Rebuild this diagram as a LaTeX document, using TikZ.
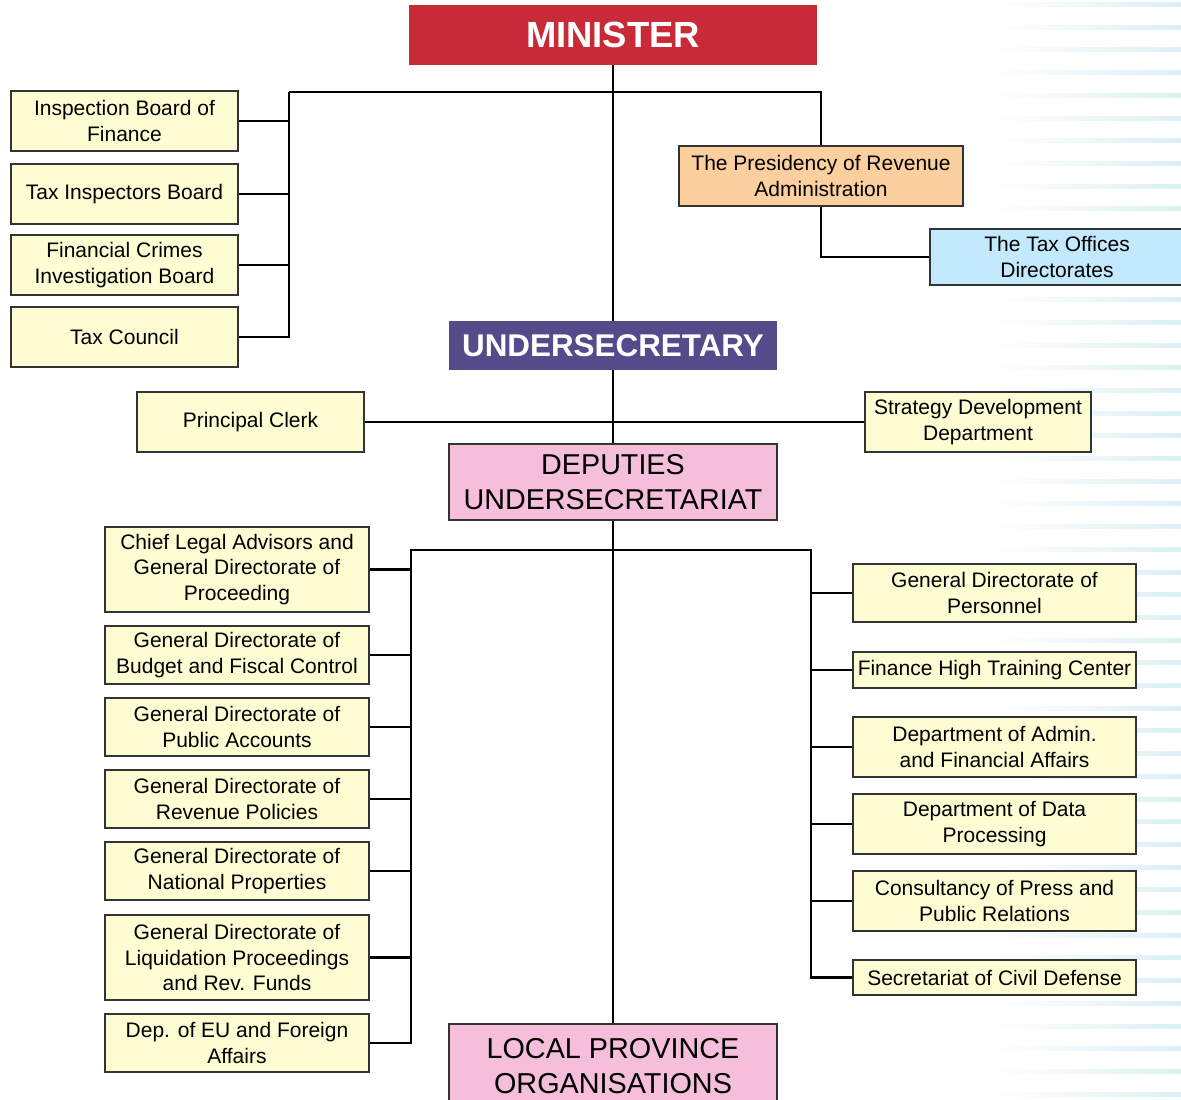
\documentclass[tikz,border=0pt]{standalone}
\usepackage{fontspec}
\setmainfont{Liberation Sans}
\definecolor{minred}{HTML}{C82B37}
\definecolor{uspurple}{HTML}{554A8A}
\definecolor{deppink}{HTML}{F5BFDC}
\definecolor{unityellow}{HTML}{FEFCD3}
\definecolor{peach}{HTML}{FCCF9E}
\definecolor{ltblue}{HTML}{C2E9FC}
\definecolor{boxline}{HTML}{333333}
\definecolor{stripe}{HTML}{DCF0F4}
\begin{document}
\begin{tikzpicture}[x=0.5pt,y=-0.5pt,
  px/.style 2 args={minimum width=#1*0.5pt, minimum height=#2*0.5pt},
  unit/.style={draw=boxline, line width=0.7pt, inner sep=0pt, align=center,
    font=\fontsize{10.5}{12.6}\selectfont, fill=unityellow},
  big/.style={inner sep=0pt, align=center},
  conn/.style={line width=1.25pt, black},
  stripeband/.style={left color=white, right color=stripe}
]
\clip (0,0) rectangle (1181,1099);
\fill[white] (0,0) rectangle (1181,1099);
% background stripes
\foreach \i in {0,...,48}{
  \shade[stripeband] (990,{2.5+\i*22.7}) rectangle (1181,{6.5+\i*22.7});
}
% top
\node[big, fill=minred, px={408}{60}, text=white, font=\fontsize{18.2}{20}\selectfont\bfseries] (min) at (613,35) {MINISTER};
\node[unit, px={227}{60}] (ib1) at (124.5,121) {Inspection Board of\\Finance};
\node[unit, px={227}{60}] (ib2) at (124.5,194) {Tax Inspectors Board};
\node[unit, px={227}{60}] (ib3) at (124.5,265) {Financial Crimes\\Investigation Board};
\node[unit, px={227}{60}] (ib4) at (124.5,337) {Tax Council};
\node[unit, px={284}{60}, fill=peach] (pres) at (821,176) {The Presidency of Revenue\\Administration};
\node[unit, px={254}{56}, fill=ltblue] (tax) at (1057,257) {The Tax Offices\\Directorates};
\node[big, fill=uspurple, px={328}{49}, text=white, font=\fontsize{15.7}{18}\selectfont\bfseries] (us) at (613,345.5) {UNDERSECRETARY};
\node[unit, px={227}{60}] (pc) at (250.5,422) {Principal Clerk};
\node[unit, px={226}{60}] (sd) at (978,422) {Strategy Development\\Department};
\node[big, draw=boxline, line width=0.7pt, fill=deppink, px={328}{76}, font=\fontsize{14.35}{17.5}\selectfont] (dep) at (613,482) {DEPUTIES\\UNDERSECRETARIAT};
% left column
\node[unit, px={264}{85}] (l1) at (237,569.5) {Chief Legal Advisors and\\General Directorate of\\Proceeding};
\node[unit, px={264}{58}] (l2) at (237,655) {General Directorate of\\Budget and Fiscal Control};
\node[unit, px={264}{58}] (l3) at (237,727) {General Directorate of\\Public Accounts};
\node[unit, px={264}{58}] (l4) at (237,799) {General Directorate of\\Revenue Policies};
\node[unit, px={264}{58}] (l5) at (237,871) {General Directorate of\\National Properties};
\node[unit, px={264}{85}] (l6) at (237,957.5) {General Directorate of\\Liquidation Proceedings\\and Rev. Funds};
\node[unit, px={264}{58}] (l7) at (237,1043) {Dep. of EU and Foreign\\Affairs};
% right column
\node[unit, px={283}{58}] (r1) at (994.5,593) {General Directorate of\\Personnel};
\node[unit, px={283}{36}] (r2) at (994.5,670) {Finance High Training Center};
\node[unit, px={283}{60}] (r3) at (994.5,747) {Department of Admin.\\and Financial Affairs};
\node[unit, px={283}{60}] (r4) at (994.5,824) {Department of Data\\Processing};
\node[unit, px={283}{60}] (r5) at (994.5,901) {Consultancy of Press and\\Public Relations};
\node[unit, px={283}{35}] (r6) at (994.5,977.5) {Secretariat of Civil Defense};
\node[big, draw=boxline, line width=0.7pt, fill=deppink, px={328}{84}, font=\fontsize{14.4}{17.5}\selectfont] (lp) at (613,1066) {LOCAL PROVINCE\\ORGANISATIONS};
% junctions
\coordinate (tl) at (289,92);
\coordinate (tr) at (821,92);
\coordinate (bl) at (411,550);
\coordinate (br) at (811,550);
% connectors
\draw[conn] (min.south) -- (us.north);
\draw[conn] (us.south) -- (dep.north);
\draw[conn] (dep.south) -- (lp.north);
\draw[conn] (tl) -- (tr) -- (pres.north);
\draw[conn] (tl) -- (ib4.east -| tl) -- (ib4.east);
\foreach \n in {ib1,ib2,ib3}{ \draw[conn] (\n.east) -- (\n.east -| tl); }
\draw[conn] (pres.south) |- (tax.west);
\draw[conn] (pc.east) -- (sd.west);
\draw[conn] (l7.east) -- (l7.east -| bl) -- (bl) -- (br) -- (r6.west -| br) -- (r6.west);
\foreach \n in {l1,l2,l3,l4,l5,l6}{ \draw[conn] (\n.east) -- (\n.east -| bl); }
\foreach \n in {r1,r2,r3,r4,r5}{ \draw[conn] (\n.west) -- (\n.west -| br); }
\end{tikzpicture}
\end{document}
